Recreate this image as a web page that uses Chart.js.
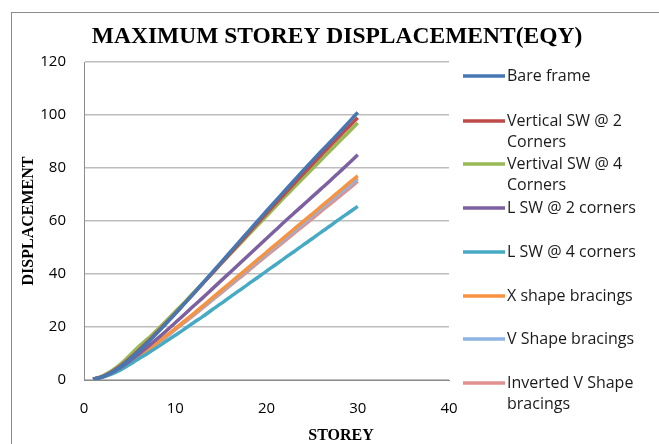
<!DOCTYPE html>
<html>
<head>
<meta charset="utf-8">
<script src="https://cdn.jsdelivr.net/npm/chart.js@4/dist/chart.umd.min.js"></script>
<style>
  html, body { margin: 0; padding: 0; background: #fff; }
  #wrap { width: 659px; height: 444px; position: relative; }
</style>
</head>
<body>
<div id="wrap"><canvas id="c" width="659" height="444"></canvas></div>
<script>
// Storey numbers and max displacement per model (EQY load case)
var storeys = [1, 2, 3, 4, 5, 6, 7, 8, 9, 10, 11, 12, 13, 14, 15,
  16, 17, 18, 19, 20, 21, 22, 23, 24, 25, 26, 27, 28, 29, 30];

var bareFrame = [0.3, 1.2, 2.8, 5.0, 7.8, 10.9, 14.2, 17.7, 21.3, 25.0, 28.8, 32.6, 36.5, 40.4, 44.3,
  48.2, 52.1, 56.0, 59.9, 63.8, 67.6, 71.4, 75.2, 79.0, 82.7, 86.3, 89.9, 93.5, 97.2, 101.0];
var vertSw2 = [0.3, 1.3, 3.0, 5.3, 8.1, 11.2, 14.5, 18.0, 21.5, 25.1, 28.8, 32.5, 36.3, 40.1, 43.9,
  47.7, 51.5, 55.3, 59.1, 62.9, 66.6, 70.3, 74.0, 77.7, 81.3, 84.9, 88.5, 92.0, 95.5, 99.0];
var vertSw4 = [0.3, 1.5, 3.4, 6.0, 9.2, 12.6, 15.6, 18.9, 22.3, 25.8, 29.3, 32.9, 36.5, 40.1, 43.8,
  47.4, 51.0, 54.7, 58.3, 61.9, 65.5, 69.1, 72.6, 76.1, 79.6, 83.1, 86.6, 90.1, 93.5, 97.0];
var lSw2 = [0.3, 1.2, 2.7, 4.7, 7.1, 9.8, 12.6, 15.5, 18.5, 21.6, 24.7, 27.9, 31.0, 34.2, 37.4,
  40.6, 43.8, 47.0, 50.2, 53.4, 56.6, 59.8, 62.9, 66.0, 69.1, 72.2, 75.3, 78.5, 81.7, 85.0];
var lSw4 = [0.3, 1.0, 2.2, 3.8, 5.8, 8.0, 10.1, 12.3, 14.6, 16.9, 19.2, 21.6, 23.9, 26.4, 28.8,
  31.3, 33.7, 36.2, 38.6, 41.1, 43.5, 46.0, 48.4, 50.9, 53.3, 55.8, 58.2, 60.7, 63.1, 65.5];
var xBracing = [0.3, 1.1, 2.5, 4.3, 6.5, 8.9, 11.4, 14.0, 16.7, 19.4, 22.2, 25.0, 27.9, 30.8, 33.7,
  36.6, 39.5, 42.4, 45.3, 48.2, 51.1, 54.0, 56.9, 59.8, 62.6, 65.5, 68.4, 71.3, 74.2, 77.0];
var vBracing = [0.3, 1.1, 2.5, 4.3, 6.4, 8.8, 11.3, 13.9, 16.5, 19.2, 22.0, 24.8, 27.6, 30.4, 33.3,
  36.1, 39.0, 41.9, 44.8, 47.6, 50.5, 53.3, 56.2, 59.0, 61.9, 64.7, 67.6, 70.4, 73.2, 76.0];
var invVBracing = [0.3, 1.1, 2.4, 4.2, 6.3, 8.7, 11.2, 13.7, 16.3, 19.0, 21.7, 24.4, 27.2, 30.0, 32.8,
  35.6, 38.4, 41.2, 44.1, 46.9, 49.7, 52.5, 55.3, 58.1, 60.9, 63.7, 66.5, 69.3, 72.1, 75.0];

var seriesNames = [
  ['Bare frame'],
  ['Vertical SW @ 2', 'Corners'],
  ['Vertival SW @ 4', 'Corners'],
  ['L SW @ 2 corners'],
  ['L SW @ 4 corners'],
  ['X shape bracings'],
  ['V Shape bracings'],
  ['Inverted V Shape', 'bracings']
];
var seriesData = [bareFrame, vertSw2, vertSw4, lSw2, lSw4, xBracing, vBracing, invVBracing];
var seriesColors = ['#4677b3', '#be4b48', '#98b954', '#7d60a0', '#46aac5', '#f69240', '#8eb4e3', '#e0908f'];

var xTicks = [0, 10, 20, 30, 40];
var yTicks = [0, 20, 40, 60, 80, 100, 120];

var SANS = '"Open Sans", "Liberation Sans", sans-serif';
var SERIF = '"Liberation Serif", "DejaVu Serif", serif';

function toPoints(arr) {
  return arr.map(function (v, i) { return { x: storeys[i], y: v }; });
}

// Title, frame, x title and the legend are drawn straight onto the canvas
var overlay = {
  id: 'overlay',
  afterDraw: function (chart) {
    var ctx = chart.ctx;
    ctx.save();
    ctx.strokeStyle = '#8c8c8c';
    ctx.lineWidth = 1;
    ctx.strokeRect(11.5, 12.5, 700, 500);

    ctx.fillStyle = '#000';
    ctx.textAlign = 'center';
    ctx.textBaseline = 'middle';
    ctx.font = 'bold 23.5px ' + SERIF;
    ctx.fillText('MAXIMUM STOREY DISPLACEMENT(EQY)', 337, 37);
    ctx.font = 'bold 16px ' + SERIF;
    ctx.fillText('STOREY', 341, 436);

    var itemY = [76, 121, 164, 208, 252, 296, 339, 383];
    ctx.textAlign = 'left';
    ctx.font = '16px ' + SANS;
    seriesNames.forEach(function (lines, i) {
      ctx.strokeStyle = seriesColors[i];
      ctx.lineWidth = 3.5;
      ctx.beginPath();
      ctx.moveTo(463, itemY[i]);
      ctx.lineTo(505, itemY[i]);
      ctx.stroke();
      ctx.fillStyle = '#1a1a1a';
      lines.forEach(function (t, k) {
        ctx.fillText(t, 507, itemY[i] + k * 21);
      });
    });
    ctx.restore();
  }
};

new Chart(document.getElementById('c'), {
  type: 'line',
  data: {
    datasets: seriesData.map(function (d, i) {
      return {
        label: seriesNames[i].join(' '),
        data: toPoints(d),
        borderColor: seriesColors[i],
        backgroundColor: seriesColors[i],
        borderWidth: 3.5,
        pointRadius: 0,
        cubicInterpolationMode: 'monotone',
        fill: false
      };
    })
  },
  options: {
    responsive: false,
    animation: false,
    layout: { padding: { left: 11, right: 210, top: 62, bottom: 0 } },
    plugins: { legend: { display: false }, title: { display: false }, tooltip: { enabled: false } },
    scales: {
      x: {
        type: 'linear',
        min: 0, max: 40,
        afterBuildTicks: function (s) { s.ticks = xTicks.map(function (v) { return { value: v }; }); },
        afterFit: function (s) { s.height = 64; },
        grid: { display: false, drawTicks: false },
        border: { display: true, color: '#8c8c8c', width: 1 },
        ticks: { padding: 20, color: '#000', font: { family: SANS, size: 15 } }
      },
      y: {
        min: 0, max: 120,
        afterBuildTicks: function (s) { s.ticks = yTicks.map(function (v) { return { value: v }; }); },
        afterFit: function (s) { s.width = 73; },
        grid: { color: '#bdbdbd', lineWidth: 1.5, drawTicks: false },
        border: { display: true, color: '#8c8c8c', width: 1 },
        ticks: { padding: 18, color: '#000', font: { family: SANS, size: 15 } },
        title: {
          display: true, text: 'DISPLACEMENT', color: '#000',
          padding: { top: 8, bottom: 0 },
          font: { family: SERIF, size: 16, weight: 'bold' }
        }
      }
    }
  },
  plugins: [overlay]
});
</script>
</body>
</html>
